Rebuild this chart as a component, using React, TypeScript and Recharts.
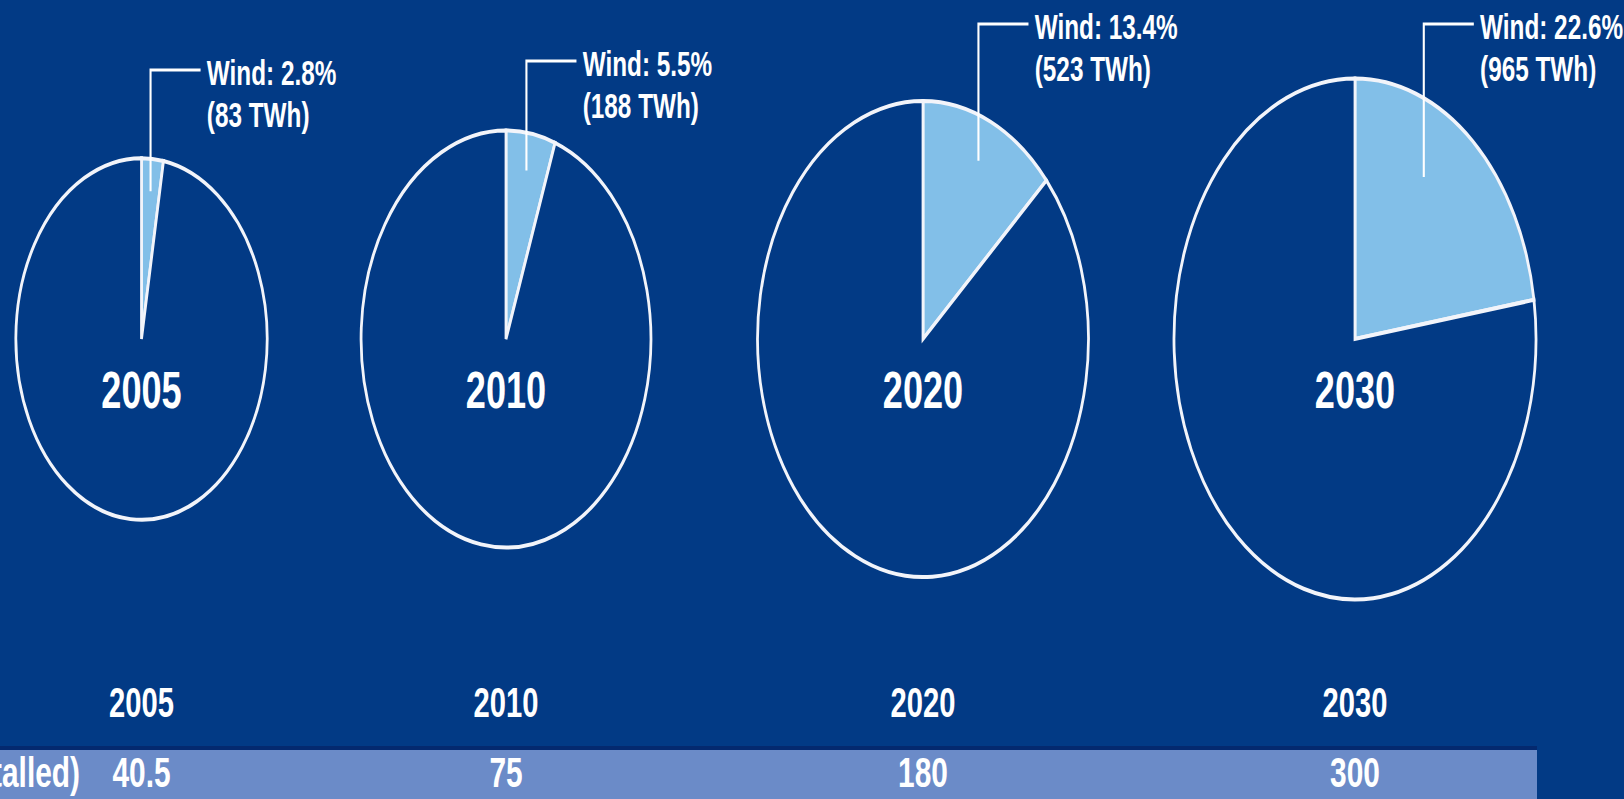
import { PieChart, Pie, Cell } from 'recharts';

// chart values
const years = ['2005', '2010', '2020', '2030'];
const windShare = [2.8, 5.5, 13.4, 22.6]; // % of electricity
const windTWh = [83, 188, 523, 965];
const capacityGW = [40.5, 75, 180, 300];
const capacityTitle = 'Capacity (GW installed)';

// the source graphic is squeezed horizontally, so draw wide then squeeze
const SQUEEZE = 0.695;
const W = 1624 / SQUEEZE;
const H = 799;

// layout (unsqueezed px)
const pieX = [141.5, 506, 923, 1355].map((x) => x / SQUEEZE);
const pieY = 339;
const calloutY = [70, 61, 24, 24];
const RADIUS_PER_TWH = 0.061; // pie radius scales with total demand

const BG = '#023a85';
const BAND = '#6b8bc8';
const SLICE = '#82bfe8';
const FONT = '"Liberation Sans", Arial, sans-serif';

const pies = years.map((year, i) => ({
  year,
  radius: (windTWh[i] / (windShare[i] / 100)) * RADIUS_PER_TWH,
  data: [
    { name: 'Wind', value: windShare[i] },
    { name: 'Other', value: 100 - windShare[i] },
  ],
}));

function makeLabel(i: number) {
  return (props: any) => {
    if (props.index !== 0) return <g />;
    const cx = pieX[i];
    const cy = pieY;
    const R = pies[i].radius;
    const mid = ((props.midAngle ?? 90 - windShare[i] * 1.8) * Math.PI) / 180;
    const dx = Math.min(0.82 * R * Math.cos(mid), 0.38 * R);
    const lx = cx + dx;
    const ly = cy - 0.82 * R * Math.sin(mid);
    const ty = calloutY[i];
    const tx = lx + 72;
    return (
      <g>
        <polyline
          points={`${lx},${ly} ${lx},${ty} ${tx},${ty}`}
          fill="none"
          stroke="#fff"
          strokeWidth={3}
        />
        <text x={tx + 9} y={ty + 15} fill="#fff" fontSize={35} fontWeight={700} fontFamily={FONT}>
          {`Wind: ${windShare[i]}%`}
        </text>
        <text x={tx + 9} y={ty + 57} fill="#fff" fontSize={35} fontWeight={700} fontFamily={FONT}>
          {`(${windTWh[i]} TWh)`}
        </text>
        <text
          x={cx}
          y={cy + 69}
          fill="#fff"
          fontSize={52}
          fontWeight={700}
          fontFamily={FONT}
          textAnchor="middle"
        >
          {years[i]}
        </text>
      </g>
    );
  };
}

export default function App() {
  return (
    <div
      style={{
        position: 'fixed',
        left: 0,
        top: 0,
        width: 1624,
        height: H,
        overflow: 'hidden',
        background: BG,
      }}
    >
      <div
        style={{
          position: 'relative',
          width: W,
          height: H,
          transform: `scaleX(${SQUEEZE})`,
          transformOrigin: '0 0',
        }}
      >
        <PieChart width={W} height={H} margin={{ top: 0, right: 0, bottom: 0, left: 0 }}>
          {pies.map((p, i) => (
            <Pie
              key={p.year}
              data={p.data}
              dataKey="value"
              nameKey="name"
              cx={pieX[i]}
              cy={pieY}
              outerRadius={p.radius}
              startAngle={90}
              endAngle={-270}
              stroke="#f2f4fa"
              strokeWidth={4}
              label={makeLabel(i)}
              labelLine={false}
              isAnimationActive={false}
            >
              <Cell fill={SLICE} />
              <Cell fill={BG} />
            </Pie>
          ))}
        </PieChart>
        <svg
          width={W}
          height={H}
          style={{ position: 'absolute', left: 0, top: 0, pointerEvents: 'none' }}
        >
          <rect x={0} y={748} width={1537 / SQUEEZE} height={H - 748} fill={BAND} />
          <line x1={0} x2={1537 / SQUEEZE} y1={748} y2={748} stroke="#04296f" strokeWidth={4} />
          <text
            x={80 / SQUEEZE}
            y={787}
            fill="#fff"
            fontSize={43}
            fontWeight={700}
            fontFamily={FONT}
            textAnchor="end"
          >
            {capacityTitle}
          </text>
          {years.map((y, i) => (
            <text
              key={y}
              x={pieX[i]}
              y={717}
              fill="#fff"
              fontSize={42}
              fontWeight={700}
              fontFamily={FONT}
              textAnchor="middle"
            >
              {y}
            </text>
          ))}
          {capacityGW.map((v, i) => (
            <text
              key={i}
              x={pieX[i]}
              y={787}
              fill="#fff"
              fontSize={43}
              fontWeight={700}
              fontFamily={FONT}
              textAnchor="middle"
            >
              {v}
            </text>
          ))}
        </svg>
      </div>
    </div>
  );
}
